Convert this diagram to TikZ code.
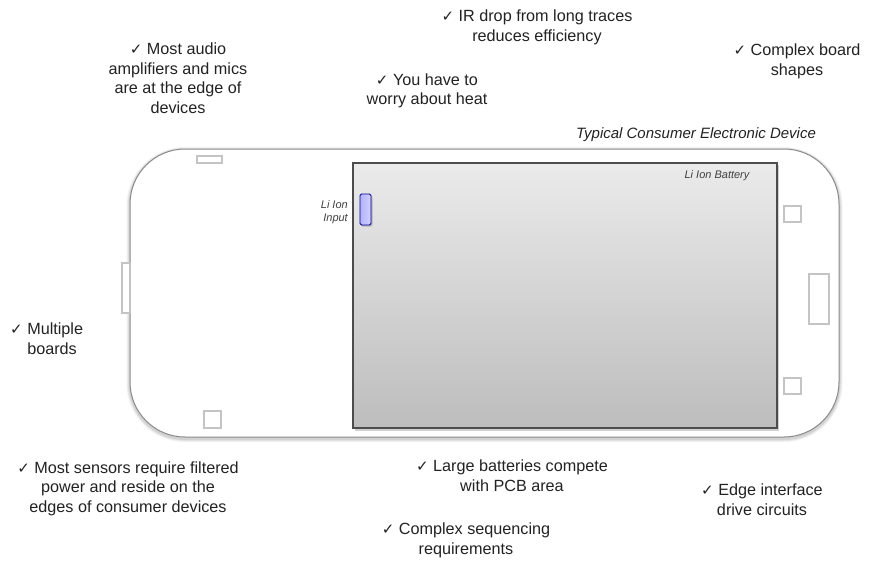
\documentclass[tikz,border=0pt]{standalone}
\usepackage{fontspec}
\setmainfont{Liberation Sans}
\newfontfamily\chk{DejaVu Sans}
\definecolor{txt}{HTML}{222222}
\definecolor{outl}{HTML}{8A8A8A}
\definecolor{pad}{HTML}{C4C4C4}
\newcommand{\ck}{{\chk\fontsize{15}{15}\selectfont\char"2713}~}
\tikzset{
  note/.style={align=center, font=\fontsize{16.2}{19.5}\selectfont, text=txt, inner sep=0pt},
  padbox/.style={draw=pad, line width=1.6pt, fill=white},
}
\begin{document}
\begin{tikzpicture}[x=1pt,y=-1pt]
\useasboundingbox (0,0) rectangle (881,560);
% device shadow
\foreach \w/\o in {7/0.05,5/0.06,3/0.08}
  \draw[black, opacity=\o, line width=\w pt, rounded corners=55pt] (130,150.5) rectangle (839,438.5);
% device outline
\draw[draw=outl, line width=1pt, fill=white, rounded corners=55pt]
  (130,149) rectangle (839,437);
\coordinate (dev) at (484.5,293);
% battery shadow + battery
\fill[black, opacity=0.18] (355,165) rectangle (779,430.5);
\draw[draw=black!70, line width=1.2pt, top color=black!8, bottom color=black!26]
  (353,163) rectangle (777,428);
\coordinate (bat) at (565,295);
% Li ion input
\fill[black, opacity=0.2, rounded corners=1.5pt] (361,195.5) rectangle (372.5,226.5);
\draw[draw=blue!60!black, line width=0.8pt, left color=blue!30, right color=blue!18, rounded corners=1.5pt]
  (360,194) rectangle (371,225);
% pads
\draw[padbox] (197,156) rectangle (222,163);
\draw[padbox] (122,263) rectangle (130,313);
\draw[padbox] (204,411) rectangle (221,428);
\draw[padbox] (784,206) rectangle (801,222);
\draw[padbox] (784,378) rectangle (801,394);
\draw[padbox] (809,274) rectangle (829,324);
% labels
\node[font=\itshape\fontsize{15}{16}\selectfont, text=txt, inner sep=0pt] (tcd) at (696,135) {Typical Consumer Electronic Device};
\node[font=\itshape\fontsize{11}{12}\selectfont, text=black!75, inner sep=0pt] (lib) at (717,176) {Li Ion Battery};
\node[font=\itshape\fontsize{11}{13}\selectfont, text=black!75, align=right, inner sep=0pt, anchor=east] (lii) at (348,212.5) {Li Ion\\Input};
% notes
\node[note] (n1) at (537,27.5) {\ck IR drop from long traces\\reduces efficiency};
\node[note] (n2) at (178,78) {\ck Most audio\\amplifiers and mics\\are at the edge of\\devices};
\node[note] (n3) at (427,91) {\ck You have to\\worry about heat};
\node[note] (n4) at (797,61.5) {\ck Complex board\\shapes};
\node[note, align=left, anchor=west] (n5) at (10,338.5) {\ck Multiple\\\phantom{\ck}boards};
\node[note] (n6) at (128,488.5) {\ck Most sensors require filtered\\power and reside on the\\edges of consumer devices};
\node[note] (n7) at (512,475.5) {\ck Large batteries compete\\with PCB area};
\node[note] (n8) at (762,499.5) {\ck Edge interface\\drive circuits};
\node[note] (n9) at (466,540.5) {\ck Complex sequencing\\requirements};
\end{tikzpicture}
\end{document}
